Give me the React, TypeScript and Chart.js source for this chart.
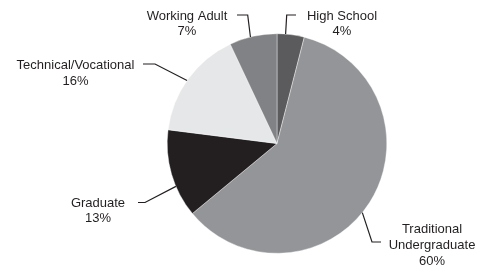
import React, { useEffect, useRef } from "react";
import { Chart, registerables } from "chart.js";

Chart.register(...registerables);

const categories = ["High School", "Traditional Undergraduate", "Graduate", "Technical/Vocational", "Working Adult"];
const shares = [4, 60, 13, 16, 7];
const percentLabels = ["4%", "60%", "13%", "16%", "7%"];
const sliceColors = ["#5b5b5d", "#939598", "#231f20", "#e6e7e8", "#808285"];

// callout layout: label lines, angle (deg clockwise from top) where leader leaves the pie,
// elbow point, end point, text centre x, first text baseline y
const calloutLines: string[][] = [
  ["High School"],
  ["Traditional", "Undergraduate"],
  ["Graduate"],
  ["Technical/Vocational"],
  ["Working Adult"],
];
const calloutAngle = [4.5, 129, 247, 305, 346];
const calloutElbow = [[286.7, 15], [372, 242], [145, 202.5], [155, 64], [247.7, 15]];
const calloutEnd = [[296, 15], [381, 242], [138, 202.5], [143, 64], [237, 15]];
const calloutTextX = [342, 432, 98, 75.5, 187];
const calloutTextY = [19.5, 233.3, 206.5, 69, 19.5];

const calloutPlugin = {
  id: "callouts",
  afterDraw(chart: any) {
    const meta = chart.getDatasetMeta(0);
    const arc = meta.data[0];
    if (!arc) return;
    const cx = arc.x;
    const cy = arc.y;
    const r = arc.outerRadius;
    const ctx = chart.ctx;
    ctx.save();
    ctx.strokeStyle = "#231f20";
    ctx.lineWidth = 1.2;
    ctx.fillStyle = "#231f20";
    ctx.font = "13px 'Liberation Sans', Arial, sans-serif";
    ctx.textAlign = "center";
    ctx.textBaseline = "alphabetic";
    categories.forEach((_, i) => {
      const a = (calloutAngle[i] * Math.PI) / 180;
      const sx = cx + r * Math.sin(a);
      const sy = cy - r * Math.cos(a);
      ctx.beginPath();
      ctx.moveTo(sx, sy);
      ctx.lineTo(calloutElbow[i][0], calloutElbow[i][1]);
      ctx.lineTo(calloutEnd[i][0], calloutEnd[i][1]);
      ctx.stroke();
      const lines = [...calloutLines[i], percentLabels[i]];
      lines.forEach((t, j) => {
        ctx.fillText(t, calloutTextX[i], calloutTextY[i] + j * 15.9);
      });
    });
    ctx.restore();
  },
};

export default function App() {
  const ref = useRef<HTMLCanvasElement | null>(null);
  useEffect(() => {
    if (!ref.current) return;
    const chart = new Chart(ref.current, {
      type: "pie",
      data: {
        labels: categories,
        datasets: [
          {
            data: shares,
            backgroundColor: sliceColors,
            borderColor: "#ffffff",
            borderWidth: 0.4,
          },
        ],
      },
      options: {
        responsive: false,
        animation: false,
        devicePixelRatio: 1,
        layout: { padding: { left: 167, right: 93, top: 33.5, bottom: 15.5 } },
        plugins: {
          legend: { display: false },
          tooltip: { enabled: false },
        },
      },
      plugins: [calloutPlugin],
    });
    return () => chart.destroy();
  }, []);
  return (
    <div style={{ position: "absolute", left: 0, top: 0, width: 480, height: 269, background: "#fff" }}>
      <canvas ref={ref} width={480} height={269} />
    </div>
  );
}
